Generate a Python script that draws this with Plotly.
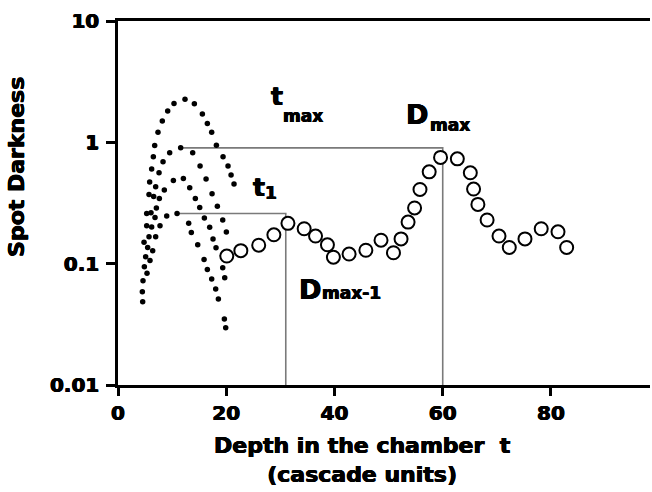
import plotly.graph_objects as go

# ---- data ----
# simulated shower profiles (small filled dots), four curves
curve_a_t = [4.56, 4.50, 4.62, 4.87, 5.11, 4.81, 5.30, 5.30, 5.73, 5.85, 6.22, 6.53, 6.78, 7.39,
             8.19, 9.18, 10.35, 12.38, 14.11, 15.59, 16.51, 17.31, 18.18, 19.41, 20.33, 20.89, 21.44]
curve_a_d = [0.0486, 0.0587, 0.0724, 0.0944, 0.114, 0.150, 0.205, 0.259, 0.372, 0.470, 0.602, 0.760,
             0.942, 1.21, 1.50, 1.81, 2.09, 2.27, 2.08, 1.71, 1.43, 1.21, 0.948, 0.760, 0.637, 0.537, 0.453]
curve_b_t = [5.48, 5.73, 6.22, 6.10, 6.59, 6.96, 7.58, 8.32, 9.55, 11.58, 13.80, 15.16, 16.27,
             17.38, 18.36, 19.35, 20.02]
curve_b_d = [0.136, 0.167, 0.201, 0.263, 0.358, 0.431, 0.561, 0.692, 0.820, 0.902, 0.820, 0.637,
             0.498, 0.377, 0.298, 0.229, 0.182]
curve_c_t = [5.36, 5.91, 6.41, 6.96, 6.84, 7.09, 7.64, 8.56, 10.23, 12.08, 13.25, 14.29, 15.10,
             15.96, 16.94, 17.56, 18.11, 19.35, 19.72]
curve_c_d = [0.0832, 0.106, 0.128, 0.167, 0.240, 0.287, 0.345, 0.404, 0.485, 0.504, 0.422, 0.345,
             0.291, 0.238, 0.200, 0.160, 0.135, 0.0926, 0.0766]
curve_d_t = [7.76, 9.00, 10.91, 13.06, 13.55, 14.73, 15.90, 16.51, 17.31, 18.05, 18.55, 19.65, 19.90]
curve_d_d = [0.205, 0.247, 0.259, 0.215, 0.181, 0.143, 0.108, 0.0897, 0.0747, 0.0618, 0.0511,
             0.0350, 0.0297]

# measured spot darkness (open circles)
meas_t = [20.1, 22.7, 26.0, 28.8, 31.4, 34.4, 36.5, 38.7, 39.8, 42.7, 45.8, 48.6, 50.9, 52.3, 53.6,
          54.8, 55.8, 57.5, 59.6, 62.7, 65.1, 65.7, 66.5, 68.2, 70.4, 72.3, 75.2, 78.2, 81.3, 82.9]
meas_d = [0.1155, 0.128, 0.142, 0.173, 0.215, 0.194, 0.169, 0.143, 0.113, 0.120, 0.129, 0.156,
          0.123, 0.160, 0.220, 0.288, 0.409, 0.571, 0.751, 0.731, 0.561, 0.412, 0.308, 0.229,
          0.169, 0.136, 0.160, 0.194, 0.183, 0.136]

# guide lines: (t start, t end, darkness)
guide_max = [11.6, 60.0, 0.90]
guide_max1 = [10.85, 31.0, 0.259]

x_ticks = [0, 20, 40, 60, 80]
y_ticks = [0.01, 0.1, 1, 10]
y_tick_text = ["0.01", "0.1", "1", "10"]

FONT = "DejaVu Sans"
HEAVY = "0.5px 0 0 black, -0.5px 0 0 black, 0 0.4px 0 black"
fig = go.Figure()

GRAY = "#7a7a7a"
for g in (guide_max, guide_max1):
    fig.add_trace(go.Scatter(x=[g[0], g[1], g[1]], y=[g[2], g[2], 0.01], mode="lines",
                             line=dict(color=GRAY, width=1.6), hoverinfo="skip"))

for tt, dd in ((curve_a_t, curve_a_d), (curve_b_t, curve_b_d),
               (curve_c_t, curve_c_d), (curve_d_t, curve_d_d)):
    fig.add_trace(go.Scatter(x=tt, y=dd, mode="markers",
                             marker=dict(size=5.5, color="black", line=dict(width=0))))

fig.add_trace(go.Scatter(x=meas_t, y=meas_d, mode="markers",
                         marker=dict(size=13, color="white", symbol="circle",
                                     line=dict(color="black", width=2))))

def lab(x, y, text, size):
    fig.add_annotation(x=x, y=y, xref="x", yref="y", text=text, showarrow=False,
                       font=dict(family=FONT, size=size, color="black", weight=700, shadow=HEAVY),
                       xanchor="center", yanchor="middle")

lab(29.4, 0.381, "t", 25)
lab(34.2, 0.216, "max", 17)
lab(55.3, 0.232, "D", 27)
lab(61.4, 0.142, "max", 17)
lab(26.0, -0.373, "t", 25)
lab(28.3, -0.418, "1", 17)
lab(35.4, -1.209, "D", 27)
lab(43.2, -1.242, "max-1", 17)

title_font = dict(family=FONT, size=22, color="black", weight=700, shadow=HEAVY)
fig.add_annotation(x=(17 - 118) / 532, y=0.599, xref="paper", yref="paper", text="Spot Darkness",
                   textangle=-90, showarrow=False, font=title_font,
                   xanchor="center", yanchor="middle")
fig.add_annotation(x=0.4605, y=-0.205, xref="paper", yref="paper",
                   text="Depth in the chamber  t<br>(cascade units)", showarrow=False,
                   font=title_font, align="center", xanchor="center", yanchor="middle")

axis_font = dict(family=FONT, size=20, color="black", weight=700, shadow=HEAVY)
fig.update_xaxes(range=[0, 98.3], tickvals=x_ticks, ticks="outside", ticklen=8, tickwidth=2.5,
                 tickcolor="black", showline=True, linecolor="black", linewidth=2.5, mirror=True,
                 showgrid=False, zeroline=False, tickfont=axis_font)
fig.update_yaxes(type="log", range=[-2, 1], tickvals=y_ticks, ticktext=y_tick_text,
                 ticks="outside", ticklen=9, tickwidth=2.5, tickcolor="black", showline=True,
                 linecolor="black", linewidth=2.5, showgrid=False, zeroline=False,
                 tickfont=axis_font, ticklabelstandoff=3)
fig.update_layout(width=652, height=492, margin=dict(l=118, r=2, t=21, b=107),
                  plot_bgcolor="white", paper_bgcolor="white", showlegend=False)

fig.write_html("out.html")
